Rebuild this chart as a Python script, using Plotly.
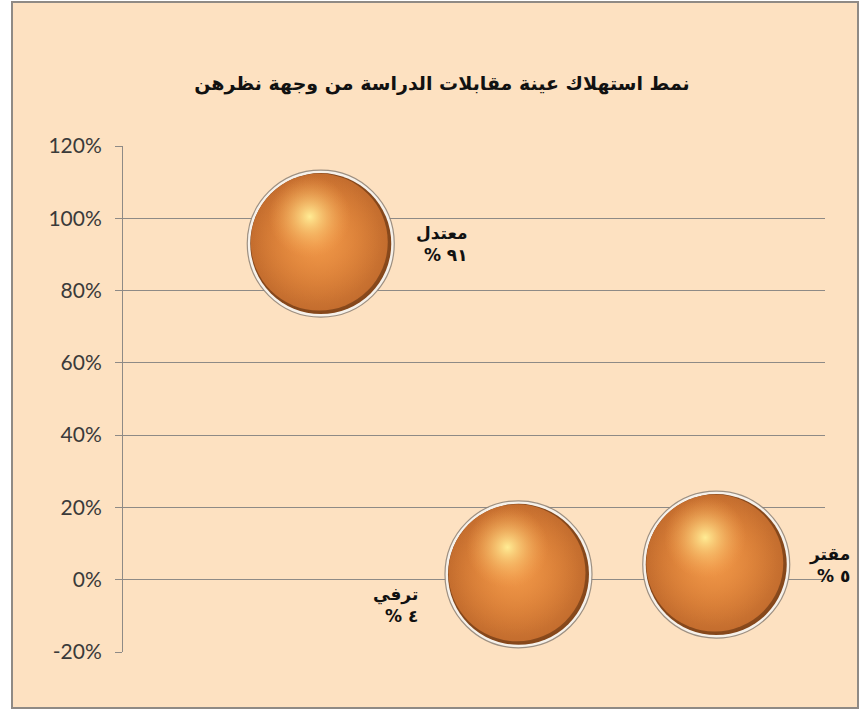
import plotly.graph_objects as go

# ---- data ----
categories = ["معتدل", "ترفي", "مقتر"]
x_pos = [1, 2, 3]
y_values = [0.93, 0.015, 0.042]
value_labels = ["% ٩١", "% ٤", "% ٥"]
title_text = "نمط استهلاك عينة مقابلات الدراسة من وجهة نظرهن"
y_tickvals = [-0.2, 0, 0.2, 0.4, 0.6, 0.8, 1.0, 1.2]
y_ticktext = ["-20%", "0%", "20%", "40%", "60%", "80%", "100%", "120%"]

W, H = 861, 712
L, R, T, B = 123, 36, 146, 60
XR = [0, 3.55]
YR = [-0.2, 1.2]
pw = W - L - R
ph = H - T - B
xs = pw / (XR[1] - XR[0])
ys = ph / (YR[1] - YR[0])
LRO, PDF = "\u202d", "\u202c"


def shifted(rng, px, scale):
    d = px / scale
    return [rng[0] + d, rng[1] + d]


fig = go.Figure()

# rim (subplot xy, drawn first)
fig.add_trace(go.Scatter(
    x=x_pos, y=y_values, mode="markers",
    marker=dict(size=147, color="#F6F1EA",
                line=dict(width=1.2, color="rgba(140,128,116,0.85)")),
    hoverinfo="skip", cliponaxis=False, showlegend=False))

# dark base of sphere
fig.add_trace(go.Scatter(
    x=x_pos, y=y_values, mode="markers",
    marker=dict(size=141, color="#84461A",
                gradient=dict(type="radial", color="#E38C40"),
                line=dict(width=0)),
    hoverinfo="skip", cliponaxis=False, showlegend=False))

# intermediate body layer (x2y2, slight up-left offset)
fig.add_trace(go.Scatter(
    x=x_pos, y=y_values, mode="markers", xaxis="x2", yaxis="y2",
    marker=dict(size=137, color="#C46D2E",
                gradient=dict(type="radial", color="#EC9446"),
                line=dict(width=0)),
    hoverinfo="skip", cliponaxis=False, showlegend=False))

# main orange body (x3y3, more up-left)
fig.add_trace(go.Scatter(
    x=x_pos, y=y_values, mode="markers", xaxis="x3", yaxis="y3",
    marker=dict(size=130, color="rgba(226,128,52,0)",
                gradient=dict(type="radial", color="rgba(240,153,74,1)"),
                line=dict(width=0)),
    hoverinfo="skip", cliponaxis=False, showlegend=False))

# highlight (x4y4, offset up-left)
fig.add_trace(go.Scatter(
    x=x_pos, y=y_values, mode="markers", xaxis="x4", yaxis="y4",
    marker=dict(size=82, color="rgba(244,160,80,0)",
                gradient=dict(type="radial", color="rgba(255,236,148,1)"),
                line=dict(width=0)),
    hoverinfo="skip", cliponaxis=False, showlegend=False))

# labels
label_shift = [(121, 0), (-123, -31), (113, 0)]
annotations = []
for xi, yi, cat, lab, (dx, dy) in zip(x_pos, y_values, categories, value_labels, label_shift):
    annotations.append(dict(
        x=xi, y=yi, xref="x", yref="y", xshift=dx, yshift=dy,
        text=f"<b>{cat}</b><br><b>{LRO}{lab}{PDF}</b>", showarrow=False, align="right",
        xanchor="center", yanchor="middle",
        font=dict(family="DejaVu Sans", size=17, color="#111111")))

fig.update_layout(
    width=W, height=H,
    margin=dict(l=L, r=R, t=T, b=B),
    paper_bgcolor="white",
    plot_bgcolor="rgba(0,0,0,0)",
    title=dict(text=f"<b>{title_text}</b>", x=442 / W, y=1 - 83 / H,
               xanchor="center", yanchor="middle",
               font=dict(family="DejaVu Sans", size=19, color="#111111")),
    xaxis=dict(range=XR, visible=False, showgrid=False, zeroline=False),
    yaxis=dict(range=YR, tickvals=y_tickvals, ticktext=y_ticktext,
               showgrid=True, gridcolor="#8E8A86", gridwidth=1,
               zeroline=False, showline=True, linecolor="#8E8A86", linewidth=1,
               ticks="outside", ticklen=7, tickcolor="#8E8A86",
               ticklabelstandoff=9,
               tickfont=dict(family="Lato", size=21, color="#3A3A3A")),
    xaxis2=dict(range=shifted(XR, 1.5, xs), overlaying="x", visible=False),
    yaxis2=dict(range=shifted(YR, -1.5, ys), overlaying="y", visible=False),
    xaxis3=dict(range=shifted(XR, 4, xs), overlaying="x", visible=False),
    yaxis3=dict(range=shifted(YR, -4, ys), overlaying="y", visible=False),
    xaxis4=dict(range=shifted(XR, 11, xs), overlaying="x", visible=False),
    yaxis4=dict(range=shifted(YR, -27, ys), overlaying="y", visible=False),
    annotations=annotations,
    shapes=[
        dict(type="rect", xref="paper", yref="paper", layer="below",
             x0=(12 - L) / pw, x1=(858 - L) / pw,
             y0=(H - B - 708) / ph, y1=(H - B - 2) / ph,
             fillcolor="#FDE1C1", line=dict(color="#8F8A85", width=2)),
    ],
)

fig.write_html("out.html", config={"displayModeBar": False},
               post_script="document.body.style.margin='0';document.body.style.overflow='hidden';")
